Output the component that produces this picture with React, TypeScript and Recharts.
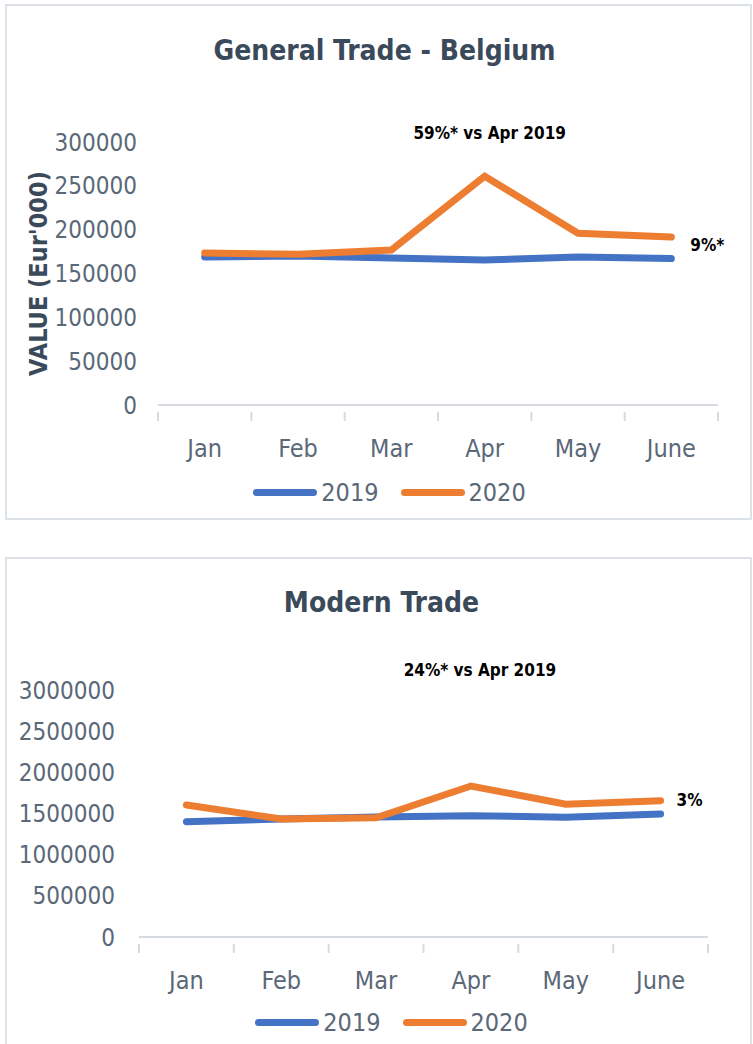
import React from 'react';
import { LineChart, Line, XAxis, YAxis, Legend, LabelList } from 'recharts';

const months = ['Jan', 'Feb', 'Mar', 'Apr', 'May', 'June'];

const generalTrade2019 = [168800, 170000, 167700, 165400, 168800, 167000];
const generalTrade2020 = [173400, 172000, 176800, 261000, 196000, 191600];
const generalTicks = [0, 50000, 100000, 150000, 200000, 250000, 300000];

const modernTrade2019 = [1400000, 1433000, 1457000, 1473000, 1454000, 1494000];
const modernTrade2020 = [1603000, 1433000, 1449000, 1834000, 1612000, 1655000];
const modernTicks = [0, 500000, 1000000, 1500000, 2000000, 2500000, 3000000];

const FONT = '"DejaVu Sans Condensed", Roboto, sans-serif';
const BLUE = '#4472C4';
const ORANGE = '#ED7D31';
const TICK_COLOR = '#5a6878';
const TITLE_COLOR = '#3b4a5b';
const AXIS_COLOR = '#d6dbe2';

type PanelProps = {
  top: number;
  height: number;
  title: string;
  titleLeft: number;
  titleTop: number;
  s2019: number[];
  s2020: number[];
  ticks: number[];
  margin: { top: number; right: number; bottom: number; left: number };
  tickMargin: number;
  yLabel?: string;
  apexNote: string;
  apexDx: number;
  apexDy: number;
  endNote: string;
  endDx: number;
  endDy: number;
  legendTop: number;
  legendShift: number;
};

function TradePanel(p: PanelProps) {
  const width = 753;
  const data = months.map((m, i) => ({ month: m, y2019: p.s2019[i], y2020: p.s2020[i] }));
  const plotWidth = width - p.margin.left - 100 - p.margin.right;
  const band = plotWidth / months.length;

  // category labels sit between tick marks, like Excel
  const renderTick = (props: any) => {
    const { x, y, payload, index } = props;
    const left = x - band / 2;
    return (
      <g>
        <line x1={left} x2={left} y1={y - 1} y2={y + 8} stroke={AXIS_COLOR} strokeWidth={2} />
        {index === months.length - 1 && (
          <line x1={x + band / 2} x2={x + band / 2} y1={y - 1} y2={y + 8} stroke={AXIS_COLOR} strokeWidth={2} />
        )}
        <text x={x} y={y + 35} textAnchor="middle" dominantBaseline="central" fill={TICK_COLOR} fontSize={25} fontFamily={FONT}>
          {payload.value}
        </text>
      </g>
    );
  };

  const renderNote = (props: any) => {
    const { x, y, index } = props;
    if (index === 3) {
      return (
        <text x={x + p.apexDx} y={y + p.apexDy} textAnchor="middle" dominantBaseline="central" fill="#000" fontSize={17} fontWeight="bold" fontFamily={FONT}>
          {p.apexNote}
        </text>
      );
    }
    if (index === months.length - 1) {
      return (
        <text x={x + p.endDx} y={y + p.endDy} textAnchor="start" dominantBaseline="central" fill="#000" fontSize={17} fontWeight="bold" fontFamily={FONT}>
          {p.endNote}
        </text>
      );
    }
    return null;
  };

  const renderLegend = () => (
    <div style={{ display: 'flex', justifyContent: 'center', alignItems: 'center', fontFamily: FONT, fontSize: 25, color: TICK_COLOR, transform: `translateX(${p.legendShift}px)` }}>
      {[['2019', BLUE], ['2020', ORANGE]].map(([name, color]) => (
        <div key={name} style={{ display: 'flex', alignItems: 'center', marginRight: 22 }}>
          <div style={{ width: 64, height: 7, borderRadius: 4, background: color, marginRight: 4 }} />
          <span>{name}</span>
        </div>
      ))}
    </div>
  );

  return (
    <div style={{ position: 'absolute', left: 0, top: p.top, width, height: p.height }}>
      <div style={{ position: 'absolute', left: p.titleLeft, top: p.titleTop, width, textAlign: 'center', fontFamily: FONT, fontWeight: 'bold', fontSize: 28, color: TITLE_COLOR, lineHeight: '34px' }}>
        {p.title}
      </div>
      <LineChart width={width} height={p.height} data={data} margin={p.margin}>
        <XAxis
          dataKey="month"
          height={40}
          padding={{ left: band / 2, right: band / 2 }}
          axisLine={{ stroke: AXIS_COLOR, strokeWidth: 2 }}
          tickLine={false}
          tick={renderTick}
          interval={0}
        />
        <YAxis
          width={100}
          domain={[p.ticks[0], p.ticks[p.ticks.length - 1]]}
          ticks={p.ticks}
          axisLine={false}
          tickLine={false}
          tickSize={0}
          tickMargin={p.tickMargin}
          tick={{ fill: TICK_COLOR, fontSize: 24, fontFamily: FONT }}
          label={
            p.yLabel
              ? (props: any) => {
                  const vb = props.viewBox;
                  const cx = vb.x - 20;
                  const cy = vb.y + vb.height / 2;
                  return (
                    <text x={cx} y={cy} transform={`rotate(-90 ${cx} ${cy})`} textAnchor="middle" dominantBaseline="central" fill={TITLE_COLOR} fontSize={25} fontWeight="bold" fontFamily={FONT}>
                      {p.yLabel}
                    </text>
                  );
                }
              : undefined
          }
        />
        <Legend layout="horizontal" verticalAlign="middle" align="center" content={renderLegend} wrapperStyle={{ top: p.legendTop, left: 0, width }} />
        <Line type="linear" dataKey="y2019" name="2019" stroke={BLUE} strokeWidth={7} dot={false} strokeLinecap="round" isAnimationActive={false} />
        <Line type="linear" dataKey="y2020" name="2020" stroke={ORANGE} strokeWidth={7} dot={false} strokeLinecap="round" isAnimationActive={false}>
          <LabelList dataKey="y2020" content={renderNote} />
        </Line>
      </LineChart>
    </div>
  );
}

export default function App() {
  return (
    <div style={{ position: 'absolute', left: 0, top: 0, width: 753, height: 1044, background: '#fff', overflow: 'hidden' }}>
      <div style={{ position: 'absolute', left: 5, top: 4, width: 743, height: 512, border: '2px solid #dde2e8' }} />
      <div style={{ position: 'absolute', left: 5, top: 557, width: 743, height: 500, border: '2px solid #dde2e8' }} />
      <TradePanel
        top={0}
        height={520}
        title="General Trade - Belgium"
        titleLeft={8}
        titleTop={34}
        s2019={generalTrade2019}
        s2020={generalTrade2020}
        ticks={generalTicks}
        margin={{ top: 142, right: 35, bottom: 75, left: 58 }}
        tickMargin={21}
        yLabel="VALUE (Eur'000)"
        apexNote="59%* vs Apr 2019"
        apexDx={5}
        apexDy={-43}
        endNote="9%*"
        endDx={19}
        endDy={8}
        legendTop={478}
        legendShift={24}
      />
      <TradePanel
        top={520}
        height={524}
        title="Modern Trade"
        titleLeft={5}
        titleTop={66}
        s2019={modernTrade2019}
        s2020={modernTrade2020}
        ticks={modernTicks}
        margin={{ top: 170, right: 45, bottom: 67, left: 39 }}
        tickMargin={24}
        apexNote="24%* vs Apr 2019"
        apexDx={9}
        apexDy={-116}
        endNote="3%"
        endDx={16}
        endDy={-1}
        legendTop={488}
        legendShift={26}
      />
    </div>
  );
}
